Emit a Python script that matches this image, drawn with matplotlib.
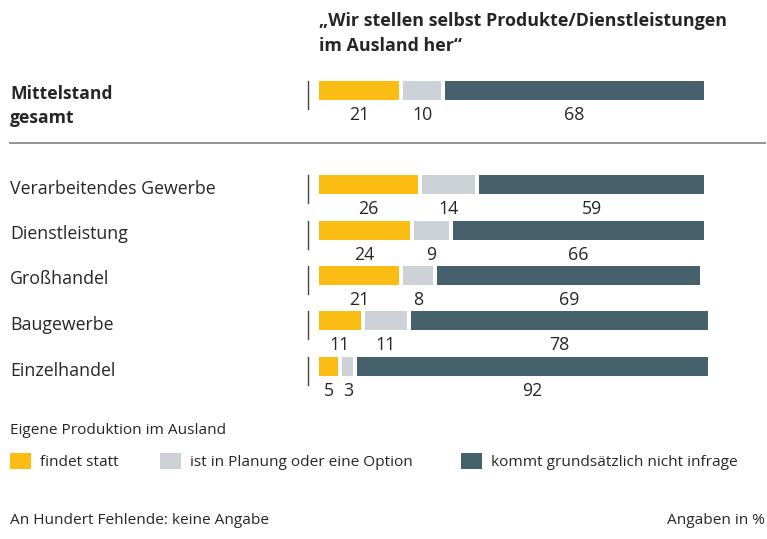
import matplotlib
matplotlib.use("Agg")
import matplotlib.pyplot as plt
from matplotlib.patches import Rectangle

categories = ["Mittelstand\ngesamt", "Verarbeitendes Gewerbe", "Dienstleistung",
              "Großhandel", "Baugewerbe", "Einzelhandel"]
findet_statt = [21, 26, 24, 21, 11, 5]
in_planung = [10, 14, 9, 8, 11, 3]
nicht_infrage = [68, 59, 66, 69, 78, 92]
series_names = ["findet statt", "ist in Planung oder eine Option",
                "kommt grundsätzlich nicht infrage"]
title = "„Wir stellen selbst Produkte/Dienstleistungen\nim Ausland her“"
legend_title = "Eigene Produktion im Ausland"
footnote_left = "An Hundert Fehlende: keine Angabe"
footnote_right = "Angaben in %"

colors = ["#FBBD14", "#CDD2D9", "#46606C"]
text_color = "#262626"
FONT = ["Open Sans", "DejaVu Sans"]
plt.rcParams["font.family"] = FONT

W, H = 767, 539
fig = plt.figure(figsize=(W / 100, H / 100), dpi=100)
ax = fig.add_axes([0, 0, 1, 1])
px_per_unit = 3.81
x0_px = 319
ax.set_xlim(-x0_px / px_per_unit, (W - x0_px) / px_per_unit)
ax.set_ylim(H, 0)
ax.axis("off")

row_y = [90.5, 184.5, 230, 275.5, 320.5, 366.5]
bar_h = 19
gap = 4 / px_per_unit

for i, cat in enumerate(categories):
    y = row_y[i]
    vals = [findet_statt[i], in_planung[i], nicht_infrage[i]]
    left = 0
    for j, v in enumerate(vals):
        ax.barh(y, v, left=left, height=bar_h, color=colors[j], linewidth=0)
        ax.text(left + v / 2, y + 24.5, str(v), ha="center", va="center",
                fontsize=12.8, color=text_color)
        left += v + gap
    # tick line left of bar
    ax.plot([-11 / px_per_unit] * 2, [y - bar_h / 2, y + bar_h / 2 + 9],
            color="#444444", lw=1)
    # category label
    if i == 0:
        ax.text(-309 / px_per_unit, y + 15.5, cat, ha="left", va="center",
                fontsize=12.6, fontweight="bold", color=text_color,
                linespacing=1.4)
    else:
        ax.text(-309 / px_per_unit, y + 4, cat, ha="left", va="center",
                fontsize=12.8, color=text_color)

# title
ax.text(0, 33.5, title, ha="left", va="center", fontsize=12.85, fontweight="bold",
        color=text_color, linespacing=1.45)

# separator
ax.plot([-309 / px_per_unit, (765 - x0_px) / px_per_unit], [143, 143],
        color="#8a8a8a", lw=1.3)

# legend
ax.text(-309 / px_per_unit, 431, legend_title, ha="left", va="center",
        fontsize=11.1, color=text_color)
leg_x = [10, 160, 461]
for j, name in enumerate(series_names):
    xs = (leg_x[j] - x0_px) / px_per_unit
    ax.add_patch(Rectangle((xs, 453), 21 / px_per_unit, 16, color=colors[j], lw=0))
    ax.text(xs + 30 / px_per_unit, 463, name, ha="left", va="center",
            fontsize=11.1, color=text_color)

ax.text(-309 / px_per_unit, 521, footnote_left, ha="left", va="center",
        fontsize=11.1, color=text_color)
ax.text((765 - x0_px) / px_per_unit, 521, footnote_right, ha="right", va="center",
        fontsize=11.1, color=text_color)

fig.savefig("out.png", dpi=100)
